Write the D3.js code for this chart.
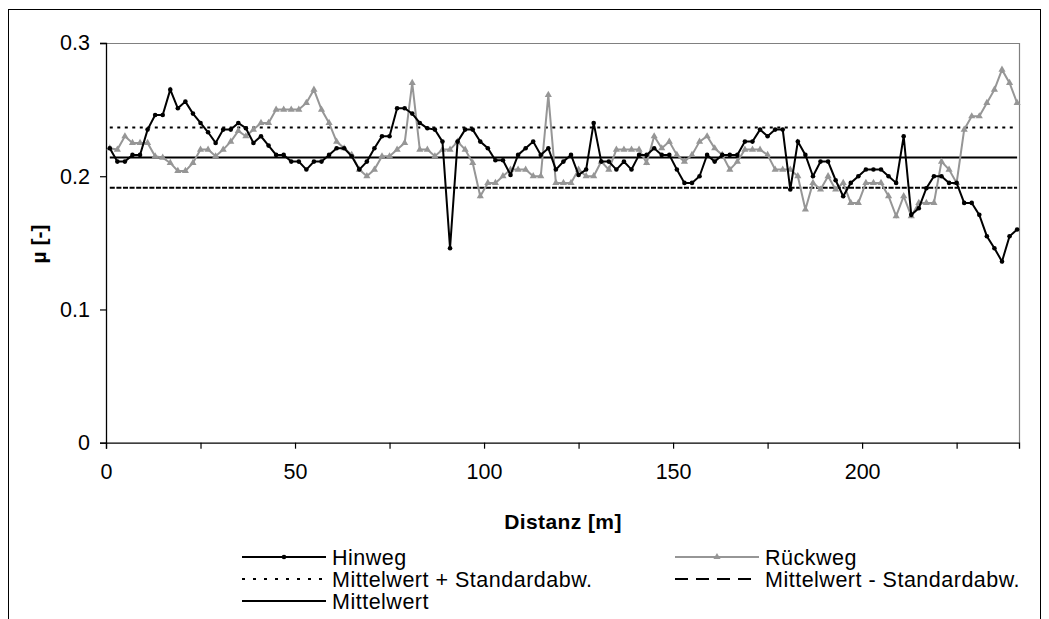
<!DOCTYPE html>
<html>
<head>
<meta charset="utf-8">
<script src="https://cdn.jsdelivr.net/npm/d3@7/dist/d3.min.js"></script>
<style>
  body { margin: 0; background: #fff; }
  svg { display: block; font-family: "Liberation Sans", Arial, sans-serif; }
</style>
</head>
<body>
<div id="chart"></div>
<script>
// Distanz [m] der Messpunkte
const distanz = [1, 3, 5, 7, 9, 11, 13, 15, 17, 19, 21, 23, 25, 27, 29, 31, 33, 35, 37, 39,
  41, 43, 45, 47, 49, 51, 53, 55, 57, 59, 61, 63, 65, 67, 69, 71, 73, 75, 77, 79,
  81, 83, 85, 87, 89, 91, 93, 95, 97, 99, 101, 103, 105, 107, 109, 111, 113, 115, 117, 119,
  121, 123, 125, 127, 129, 131, 133, 135, 137, 139, 141, 143, 145, 147, 149, 151, 153, 155, 157, 159,
  161, 163, 165, 167, 169, 171, 173, 175, 177, 179, 181, 183, 185, 187, 189, 191, 193, 195, 197, 199,
  201, 203, 205, 207, 209, 211, 213, 215, 217, 219, 221, 223, 225, 227, 229, 231, 233, 235, 237, 239, 241];

const hinweg = [0.221, 0.211, 0.211, 0.216, 0.216, 0.235, 0.246, 0.246, 0.265, 0.251,
  0.256, 0.247, 0.240, 0.233, 0.225, 0.235, 0.235, 0.240, 0.236, 0.225,
  0.230, 0.223, 0.216, 0.216, 0.211, 0.211, 0.205, 0.211, 0.211, 0.216,
  0.221, 0.221, 0.215, 0.205, 0.211, 0.221, 0.230, 0.230, 0.251, 0.251,
  0.247, 0.240, 0.236, 0.235, 0.226, 0.146, 0.226, 0.235, 0.235, 0.226,
  0.221, 0.212, 0.212, 0.201, 0.216, 0.221, 0.226, 0.216, 0.221, 0.205,
  0.211, 0.216, 0.201, 0.205, 0.240, 0.211, 0.211, 0.205, 0.211, 0.205,
  0.216, 0.216, 0.221, 0.216, 0.216, 0.205, 0.195, 0.195, 0.200, 0.216,
  0.211, 0.216, 0.216, 0.216, 0.226, 0.226, 0.235, 0.230, 0.235, 0.235,
  0.190, 0.226, 0.216, 0.200, 0.211, 0.211, 0.197, 0.185, 0.195, 0.200,
  0.205, 0.205, 0.205, 0.200, 0.195, 0.230, 0.171, 0.176, 0.191, 0.200,
  0.200, 0.195, 0.195, 0.180, 0.180, 0.171, 0.155, 0.146, 0.136, 0.155, 0.160];

const rueckweg = [0.221, 0.220, 0.230, 0.225, 0.225, 0.225, 0.215, 0.214, 0.210, 0.204,
  0.204, 0.210, 0.220, 0.220, 0.215, 0.220, 0.226, 0.234, 0.230, 0.235,
  0.240, 0.240, 0.250, 0.250, 0.250, 0.250, 0.255, 0.265, 0.250, 0.240,
  0.226, 0.221, 0.216, 0.205, 0.200, 0.205, 0.215, 0.215, 0.220, 0.225,
  0.270, 0.220, 0.220, 0.215, 0.220, 0.220, 0.226, 0.220, 0.210, 0.185,
  0.195, 0.195, 0.200, 0.205, 0.205, 0.205, 0.200, 0.200, 0.261, 0.195,
  0.195, 0.195, 0.205, 0.200, 0.200, 0.211, 0.205, 0.220, 0.220, 0.220,
  0.220, 0.210, 0.230, 0.221, 0.226, 0.216, 0.211, 0.216, 0.226, 0.230,
  0.221, 0.216, 0.205, 0.211, 0.220, 0.220, 0.220, 0.216, 0.205, 0.205,
  0.205, 0.200, 0.175, 0.195, 0.190, 0.200, 0.190, 0.195, 0.180, 0.180,
  0.195, 0.195, 0.195, 0.185, 0.170, 0.185, 0.170, 0.180, 0.180, 0.180,
  0.211, 0.205, 0.195, 0.235, 0.245, 0.245, 0.255, 0.265, 0.280, 0.270, 0.255];

const mittelwert = 0.214;
const standardabw = 0.0226;

const yTicks = [0, 0.1, 0.2, 0.3];
const xTicks = [0, 25, 50, 75, 100, 125, 150, 175, 200, 225];
const xLabels = [0, 50, 100, 150, 200];

const width = 1049, height = 619;
const margin = {left: 106, top: 43, right: 1019, bottom: 442.7};
const grey = '#969696';

const svg = d3.select('#chart').append('svg')
  .attr('width', width)
  .attr('height', height);

svg.append('rect').attr('width', width).attr('height', height).attr('fill', '#fff');
// chart border (runs off the bottom of the picture)
svg.append('rect')
  .attr('x', 8.5).attr('y', 9.5)
  .attr('width', 1032).attr('height', 640)
  .attr('fill', 'none').attr('stroke', '#000').attr('stroke-width', 1);

const x = d3.scaleLinear().domain([0, 241.5]).range([margin.left, margin.right]);
const y = d3.scaleLinear().domain([0, 0.3]).range([margin.bottom, margin.top]);

// top and right edge of the plot area
svg.append('path')
  .attr('d', `M${margin.left},${margin.top + 0.5}H${margin.right + 0.5}V${margin.bottom}`)
  .attr('fill', 'none').attr('stroke', '#808080').attr('stroke-width', 1.2);

svg.append('g')
  .attr('transform', `translate(${margin.left},0)`)
  .call(d3.axisLeft(y).tickValues(yTicks).tickSizeOuter(0).tickSize(6).tickPadding(10)
    .tickFormat(d => d === 0 ? '0' : d3.format('.1f')(d)));

svg.append('g')
  .attr('transform', `translate(0,${margin.bottom})`)
  .call(d3.axisBottom(x).tickValues(xTicks).tickSizeOuter(0).tickSize(6).tickPadding(15)
    .tickFormat(d => xLabels.includes(d) ? d : ''));

svg.selectAll('.domain').attr('stroke', '#000').attr('stroke-width', 1.3);
svg.selectAll('.tick line').attr('stroke', '#000').attr('stroke-width', 1.2);
svg.selectAll('.tick text')
  .attr('font-family', '"Liberation Sans", Arial, sans-serif')
  .attr('font-size', 21.5).attr('fill', '#000');

// reference lines
const x0 = distanz[0], x1 = distanz[distanz.length - 1];
const refLines = [
  {v: mittelwert + standardabw, dash: '3,4.5'},
  {v: mittelwert - standardabw, dash: '5,1.6'},
  {v: mittelwert, dash: null}
];
refLines.forEach(r => {
  svg.append('line')
    .attr('x1', x(x0)).attr('x2', x(x1))
    .attr('y1', y(r.v)).attr('y2', y(r.v))
    .attr('stroke', '#000').attr('stroke-width', 2)
    .attr('stroke-dasharray', r.dash);
});

const line = d3.line().x(d => x(d[0])).y(d => y(d[1]));
const rData = distanz.map((d, i) => [d, rueckweg[i]]);
const hData = distanz.map((d, i) => [d, hinweg[i]]);

const tri = d3.symbol().type(d3.symbolTriangle).size(22);

svg.append('path').datum(rData)
  .attr('d', line).attr('fill', 'none')
  .attr('stroke', grey).attr('stroke-width', 2);
svg.selectAll('.rmark').data(rData).enter().append('path')
  .attr('class', 'rmark')
  .attr('d', tri)
  .attr('transform', d => `translate(${x(d[0])},${y(d[1])})`)
  .attr('fill', grey);

svg.append('path').datum(hData)
  .attr('d', line).attr('fill', 'none')
  .attr('stroke', '#000').attr('stroke-width', 2);
svg.selectAll('.hmark').data(hData).enter().append('circle')
  .attr('class', 'hmark')
  .attr('cx', d => x(d[0])).attr('cy', d => y(d[1]))
  .attr('r', 2.3).attr('fill', '#000');

// axis titles
svg.append('text')
  .attr('x', 563).attr('y', 529)
  .attr('text-anchor', 'middle')
  .attr('font-size', 21).attr('font-weight', 'bold')
  .attr('letter-spacing', 0.4)
  .text('Distanz [m]');

svg.append('text')
  .attr('transform', 'translate(46,244) rotate(-90)')
  .attr('text-anchor', 'middle')
  .attr('font-size', 21).attr('font-weight', 'bold')
  .text('µ [-]');

// legend
const legend = [
  {name: 'Hinweg', col: 0, row: 0, color: '#000', dash: null, mark: 'circle'},
  {name: 'Rückweg', col: 1, row: 0, color: grey, dash: null, mark: 'triangle'},
  {name: 'Mittelwert + Standardabw.', col: 0, row: 1, color: '#000', dash: '3,8', mark: null},
  {name: 'Mittelwert - Standardabw.', col: 1, row: 1, color: '#000', dash: '13,8', mark: null},
  {name: 'Mittelwert', col: 0, row: 2, color: '#000', dash: null, mark: null}
];
const colX = [242, 675];
const rowY = [557, 579, 601];
legend.forEach(l => {
  const lx = colX[l.col], ly = rowY[l.row];
  svg.append('line')
    .attr('x1', lx).attr('x2', lx + 84)
    .attr('y1', ly).attr('y2', ly)
    .attr('stroke', l.color).attr('stroke-width', 2)
    .attr('stroke-dasharray', l.dash);
  if (l.mark === 'circle') {
    svg.append('circle').attr('cx', lx + 42).attr('cy', ly).attr('r', 2.3).attr('fill', l.color);
  } else if (l.mark === 'triangle') {
    svg.append('path').attr('d', tri).attr('transform', `translate(${lx + 42},${ly})`).attr('fill', l.color);
  }
  svg.append('text')
    .attr('x', lx + 90).attr('y', ly + 7.5)
    .attr('font-size', 21.5)
    .attr('letter-spacing', 0.5)
    .text(l.name);
});
</script>
</body>
</html>
